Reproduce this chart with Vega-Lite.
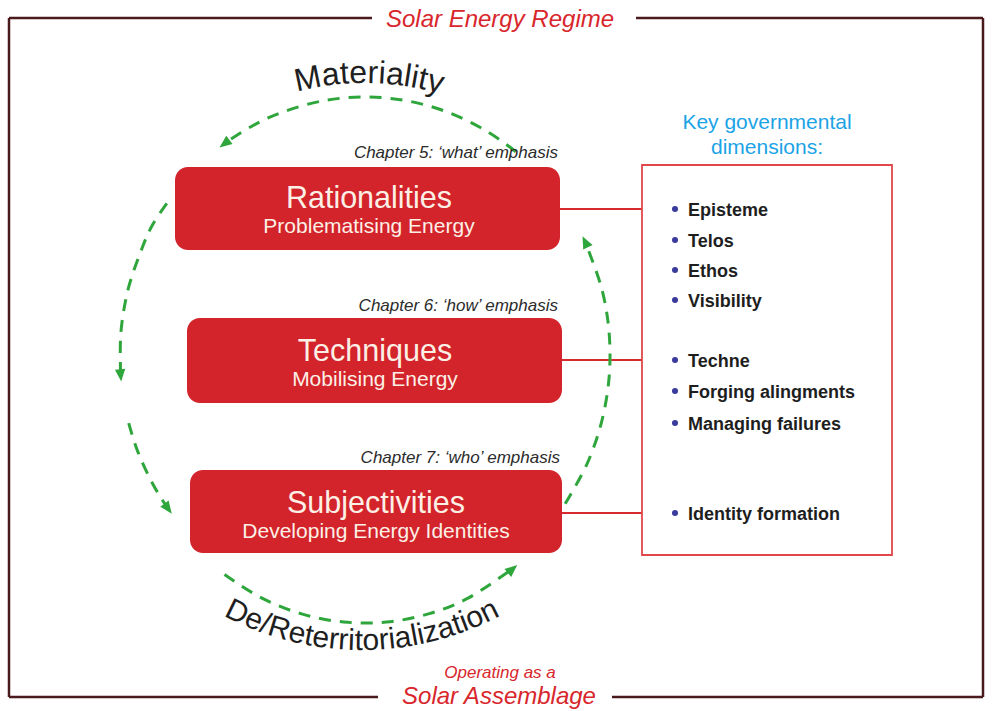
{
  "$schema": "https://vega.github.io/schema/vega-lite/v6.json",
  "width": 992,
  "height": 711,
  "padding": 0,
  "autosize": {"type": "fit", "contains": "padding"},
  "background": "white",
  "config": {"view": {"stroke": null}},
  "encoding": {
    "x": {"field": "x", "type": "quantitative", "scale": {"domain": [0, 992], "nice": false, "zero": false}, "axis": null},
    "y": {"field": "y", "type": "quantitative", "scale": {"domain": [0, 711], "nice": false, "zero": false, "reverse": true}, "axis": null}
  },
  "layer": [
    {
      "data": {"values": [
        {"x": 9, "y": 18, "x2": 372, "y2": 18},
        {"x": 636, "y": 18, "x2": 983, "y2": 18},
        {"x": 9, "y": 18, "x2": 9, "y2": 697},
        {"x": 983, "y": 18, "x2": 983, "y2": 697},
        {"x": 9, "y": 697, "x2": 378, "y2": 697},
        {"x": 612, "y": 697, "x2": 983, "y2": 697}
      ]},
      "mark": {"type": "rule", "color": "#4a1a1c", "strokeWidth": 2.5},
      "encoding": {"x2": {"field": "x2"}, "y2": {"field": "y2"}}
    },
    {
      "data": {"values": [
        {"x": 560, "y": 209, "x2": 642, "y2": 209},
        {"x": 562, "y": 360, "x2": 642, "y2": 360},
        {"x": 562, "y": 513, "x2": 642, "y2": 513}
      ]},
      "mark": {"type": "rule", "color": "#d62a2f", "strokeWidth": 2.2},
      "encoding": {"x2": {"field": "x2"}, "y2": {"field": "y2"}}
    },
    {
      "data": {"values": [
        {"x": 175, "x2": 560, "y": 167, "y2": 250},
        {"x": 187, "x2": 562, "y": 318, "y2": 403},
        {"x": 190, "x2": 562, "y": 470, "y2": 553}
      ]},
      "mark": {"type": "rect", "color": "#d3232b", "cornerRadius": 13},
      "encoding": {"x2": {"field": "x2"}, "y2": {"field": "y2"}}
    },
    {
      "data": {"values": [{"x": 642, "x2": 892, "y": 165, "y2": 555}]},
      "mark": {"type": "rect", "fill": "white", "stroke": "#e0474b", "strokeWidth": 1.8},
      "encoding": {"x2": {"field": "x2"}, "y2": {"field": "y2"}}
    },
    {
      "data": {"values": [
        {"seg": "A", "i": 0, "x": 515.8, "y": 151.7},
        {"seg": "A", "i": 1, "x": 487.5, "y": 131.6},
        {"seg": "A", "i": 2, "x": 448.8, "y": 112.6},
        {"seg": "A", "i": 3, "x": 407.5, "y": 100.9},
        {"seg": "A", "i": 4, "x": 365, "y": 97},
        {"seg": "A", "i": 5, "x": 322.5, "y": 100.9},
        {"seg": "A", "i": 6, "x": 281.2, "y": 112.6},
        {"seg": "A", "i": 7, "x": 250.0, "y": 127.2},
        {"seg": "A", "i": 8, "x": 223.0, "y": 144.5},
        {"seg": "B", "i": 0, "x": 166.8, "y": 203.4},
        {"seg": "B", "i": 1, "x": 153.0, "y": 224.0},
        {"seg": "B", "i": 2, "x": 142.9, "y": 246.0},
        {"seg": "B", "i": 3, "x": 128.4, "y": 288.2},
        {"seg": "B", "i": 4, "x": 120.9, "y": 332.5},
        {"seg": "B", "i": 5, "x": 120.7, "y": 376.0},
        {"seg": "C", "i": 0, "x": 128.7, "y": 423.1},
        {"seg": "C", "i": 1, "x": 137.8, "y": 451.6},
        {"seg": "C", "i": 2, "x": 152.8, "y": 484.0},
        {"seg": "C", "i": 3, "x": 168.5, "y": 509.5},
        {"seg": "D", "i": 0, "x": 224.5, "y": 574.5},
        {"seg": "D", "i": 1, "x": 261.5, "y": 597.9},
        {"seg": "D", "i": 2, "x": 301.6, "y": 613.9},
        {"seg": "D", "i": 3, "x": 343.6, "y": 622.0},
        {"seg": "D", "i": 4, "x": 386.4, "y": 622.0},
        {"seg": "D", "i": 5, "x": 428.4, "y": 613.9},
        {"seg": "D", "i": 6, "x": 468.5, "y": 597.9},
        {"seg": "D", "i": 7, "x": 513.0, "y": 568.5},
        {"seg": "E", "i": 0, "x": 565.2, "y": 503.7},
        {"seg": "E", "i": 1, "x": 587.0, "y": 464.0},
        {"seg": "E", "i": 2, "x": 601.6, "y": 421.8},
        {"seg": "E", "i": 3, "x": 609.1, "y": 377.5},
        {"seg": "E", "i": 4, "x": 609.1, "y": 332.5},
        {"seg": "E", "i": 5, "x": 601.6, "y": 288.2},
        {"seg": "E", "i": 6, "x": 585.0, "y": 241.5}
      ]},
      "mark": {"type": "line", "color": "#2fa63c", "strokeWidth": 3, "strokeDash": [12, 9], "interpolate": "cardinal"},
      "encoding": {"detail": {"field": "seg"}, "order": {"field": "i", "type": "quantitative"}}
    },
    {
      "data": {"values": [
        {"x": 225.0, "y": 143.3, "rot": 232.6},
        {"x": 120.6, "y": 374.7, "rot": 174.8},
        {"x": 167.7, "y": 508.1, "rot": 143.9},
        {"x": 512.0, "y": 569.4, "rot": 49.5},
        {"x": 585.5, "y": 242.4, "rot": -25.8}
      ]},
      "mark": {"type": "point", "filled": true, "opacity": 1, "color": "#2fa63c", "size": 190, "shape": "M0,-1L0.75,0.8L-0.75,0.8Z"},
      "encoding": {"angle": {"field": "rot", "type": "quantitative", "scale": null}}
    },
    {
      "data": {"values": [
        {"x": 675, "y": 209},
        {"x": 675, "y": 240},
        {"x": 675, "y": 270},
        {"x": 675, "y": 300},
        {"x": 675, "y": 360},
        {"x": 675, "y": 391},
        {"x": 675, "y": 423},
        {"x": 675, "y": 513}
      ]},
      "mark": {"type": "point", "filled": true, "opacity": 1, "shape": "circle", "color": "#3a3a9c", "size": 36}
    },
    {
      "data": {"values": [
        {"x": 688, "y": 216, "t": "Episteme"},
        {"x": 688, "y": 247, "t": "Telos"},
        {"x": 688, "y": 277, "t": "Ethos"},
        {"x": 688, "y": 307, "t": "Visibility"},
        {"x": 688, "y": 367, "t": "Techne"},
        {"x": 688, "y": 398, "t": "Forging alingments"},
        {"x": 688, "y": 430, "t": "Managing failures"},
        {"x": 688, "y": 520, "t": "Identity formation"}
      ]},
      "mark": {"type": "text", "font": "Liberation Sans", "fontSize": 18, "fontWeight": "bold", "color": "#1e1e1e", "align": "left", "baseline": "alphabetic"},
      "encoding": {"text": {"field": "t"}}
    },
    {
      "data": {"values": [
        {"x": 767, "y": 129, "t": "Key governmental"},
        {"x": 767, "y": 154, "t": "dimensions:"}
      ]},
      "mark": {"type": "text", "font": "Liberation Sans", "fontSize": 21, "color": "#1ba3e6", "align": "center", "baseline": "alphabetic"},
      "encoding": {"text": {"field": "t"}}
    },
    {
      "data": {"values": [
        {"x": 369, "y": 208, "t": "Rationalities"},
        {"x": 375, "y": 361, "t": "Techniques"},
        {"x": 376, "y": 513, "t": "Subjectivities"}
      ]},
      "mark": {"type": "text", "font": "Liberation Sans", "fontSize": 30.5, "color": "#fcf0e6", "align": "center", "baseline": "alphabetic"},
      "encoding": {"text": {"field": "t"}}
    },
    {
      "data": {"values": [
        {"x": 369, "y": 233, "t": "Problematising Energy"},
        {"x": 375, "y": 386, "t": "Mobilising Energy"},
        {"x": 376, "y": 538, "t": "Developing Energy Identities"}
      ]},
      "mark": {"type": "text", "font": "Liberation Sans", "fontSize": 21, "color": "#fcf0e6", "align": "center", "baseline": "alphabetic"},
      "encoding": {"text": {"field": "t"}}
    },
    {
      "data": {"values": [
        {"x": 558, "y": 158, "t": "Chapter 5: ‘what’ emphasis"},
        {"x": 558, "y": 311, "t": "Chapter 6: ‘how’ emphasis"},
        {"x": 560, "y": 463, "t": "Chapter 7: ‘who’ emphasis"}
      ]},
      "mark": {"type": "text", "font": "Liberation Sans", "fontSize": 17, "fontStyle": "italic", "color": "#2b2b2b", "align": "right", "baseline": "alphabetic"},
      "encoding": {"text": {"field": "t"}}
    },
    {
      "data": {"values": [
        {"x": 500, "y": 27, "t": "Solar Energy Regime"},
        {"x": 499, "y": 704, "t": "Solar Assemblage"}
      ]},
      "mark": {"type": "text", "font": "Liberation Sans", "fontSize": 24, "fontStyle": "italic", "color": "#d8262c", "align": "center", "baseline": "alphabetic"},
      "encoding": {"text": {"field": "t"}}
    },
    {
      "data": {"values": [
        {"x": 500, "y": 678, "t": "Operating as a"}
      ]},
      "mark": {"type": "text", "font": "Liberation Sans", "fontSize": 17, "fontStyle": "italic", "color": "#d8262c", "align": "center", "baseline": "alphabetic"},
      "encoding": {"text": {"field": "t"}}
    },
    {
      "data": {"values": [
        {"c": "M", "x": 309.9, "y": 88.7, "rot": -11.7},
        {"c": "a", "x": 331.8, "y": 85.0, "rot": -7.0},
        {"c": "t", "x": 345.1, "y": 83.7, "rot": -4.2},
        {"c": "e", "x": 358.4, "y": 83.1, "rot": -1.4},
        {"c": "r", "x": 372.7, "y": 83.1, "rot": 1.6},
        {"c": "i", "x": 381.6, "y": 83.5, "rot": 3.5},
        {"c": "a", "x": 394.0, "y": 84.6, "rot": 6.1},
        {"c": "l", "x": 406.3, "y": 86.2, "rot": 8.7},
        {"c": "i", "x": 413.3, "y": 87.3, "rot": 10.2},
        {"c": "t", "x": 421.2, "y": 88.9, "rot": 11.9},
        {"c": "y", "x": 433.3, "y": 91.7, "rot": 14.5}
      ]},
      "mark": {"type": "text", "font": "Liberation Sans", "fontSize": 32, "color": "#1f1f1f", "align": "center", "baseline": "alphabetic"},
      "encoding": {"text": {"field": "c"}, "angle": {"field": "rot", "type": "quantitative", "scale": null}}
    },
    {
      "data": {"values": [
        {"c": "D", "x": 233.1, "y": 620.4, "rot": 25.9},
        {"c": "e", "x": 250.6, "y": 628.2, "rot": 22.2},
        {"c": "/", "x": 262.3, "y": 632.7, "rot": 19.8},
        {"c": "R", "x": 276.5, "y": 637.3, "rot": 16.8},
        {"c": "e", "x": 295.1, "y": 642.3, "rot": 13.1},
        {"c": "t", "x": 307.3, "y": 644.9, "rot": 10.7},
        {"c": "e", "x": 319.6, "y": 646.9, "rot": 8.3},
        {"c": "r", "x": 332.9, "y": 648.6, "rot": 5.7},
        {"c": "r", "x": 342.8, "y": 649.4, "rot": 3.7},
        {"c": "i", "x": 351.1, "y": 649.8, "rot": 2.1},
        {"c": "t", "x": 358.6, "y": 650.0, "rot": 0.7},
        {"c": "o", "x": 371.2, "y": 649.9, "rot": -1.8},
        {"c": "r", "x": 384.5, "y": 649.1, "rot": -4.4},
        {"c": "i", "x": 392.8, "y": 648.4, "rot": -6.0},
        {"c": "a", "x": 404.3, "y": 647.0, "rot": -8.3},
        {"c": "l", "x": 415.9, "y": 645.0, "rot": -10.5},
        {"c": "i", "x": 422.4, "y": 643.7, "rot": -11.8},
        {"c": "z", "x": 433.0, "y": 641.3, "rot": -13.9},
        {"c": "a", "x": 448.2, "y": 637.1, "rot": -17.0},
        {"c": "t", "x": 460.1, "y": 633.2, "rot": -19.4},
        {"c": "i", "x": 467.1, "y": 630.6, "rot": -20.9},
        {"c": "o", "x": 478.0, "y": 626.3, "rot": -23.1},
        {"c": "n", "x": 493.1, "y": 619.3, "rot": -26.4}
      ]},
      "mark": {"type": "text", "font": "Liberation Sans", "fontSize": 30, "color": "#1f1f1f", "align": "center", "baseline": "alphabetic"},
      "encoding": {"text": {"field": "c"}, "angle": {"field": "rot", "type": "quantitative", "scale": null}}
    }
  ]
}
